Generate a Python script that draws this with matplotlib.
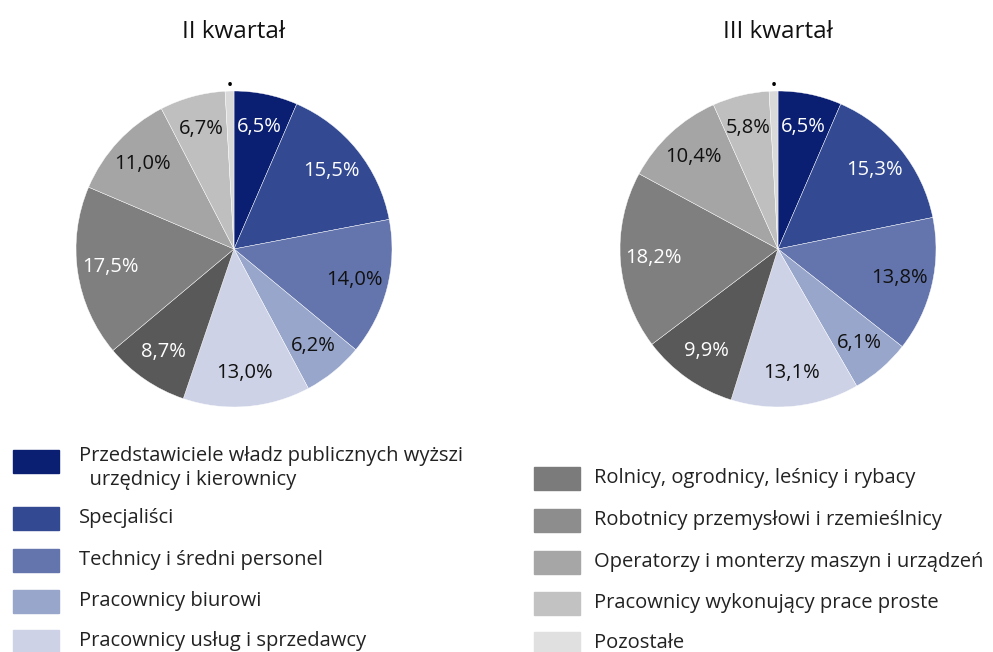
import numpy as np
import matplotlib
matplotlib.use('Agg')
import matplotlib.pyplot as plt
from matplotlib.patches import Rectangle

plt.rcParams['font.family'] = ['Open Sans', 'DejaVu Sans']

# data
categories = ['Przedstawiciele władz publicznych wyższi\n  urzędnicy i kierownicy',
              'Specjaliści',
              'Technicy i średni personel',
              'Pracownicy biurowi',
              'Pracownicy usług i sprzedawcy',
              'Rolnicy, ogrodnicy, leśnicy i rybacy',
              'Robotnicy przemysłowi i rzemieślnicy',
              'Operatorzy i monterzy maszyn i urządzeń',
              'Pracownicy wykonujący prace proste',
              'Pozostałe']
q2_values = [6.5, 15.5, 14.0, 6.2, 13.0, 8.7, 17.5, 11.0, 6.7, 0.9]
q3_values = [6.5, 15.3, 13.8, 6.1, 13.1, 9.9, 18.2, 10.4, 5.8, 0.9]
titles = ['II kwartał', 'III kwartał']

colors = ['#0b1f72', '#334a93', '#6475ad', '#98a6cb', '#cdd2e6',
          '#595959', '#7f7f7f', '#a5a5a5', '#bfbfbf', '#d9d9d9']
legend_colors = ['#0b1f72', '#334a93', '#6475ad', '#98a6cb', '#cdd2e6',
                 '#7b7b7b', '#8d8d8d', '#a6a6a6', '#c2c2c2', '#e0e0e0']
white_text = {0, 1, 5, 6}

W, H = 993, 652
fig = plt.figure(figsize=(W / 100, H / 100), dpi=100)


def draw_pie(cx, cy, r, values, title):
    ax = fig.add_axes([(cx - r) / W, (H - cy - r) / H, 2 * r / W, 2 * r / H])
    wedges, _ = ax.pie(values, colors=colors, startangle=90, counterclock=False,
                       wedgeprops=dict(edgecolor='white', linewidth=0.3))
    ax.set_xlim(-1, 1)
    ax.set_ylim(-1, 1)
    ax.axis('off')
    for i, (w, v) in enumerate(zip(wedges, values)):
        ang = np.deg2rad((w.theta1 + w.theta2) / 2)
        if i == len(values) - 1:
            ax.text(1.0 * np.cos(ang), 1.0 * np.sin(ang), '.', ha='center',
                    va='bottom', fontsize=15, fontweight='bold', clip_on=False)
            continue
        d = 0.79
        ax.text(d * np.cos(ang), d * np.sin(ang), ('%.1f%%' % v).replace('.', ','),
                ha='center', va='center', fontsize=14.5,
                color='white' if i in white_text else '#111111')
    fig.text(cx / W, 1 - 32 / H, title, ha='center', va='center', fontsize=17.5,
             color='#111111')


draw_pie(234, 249, 158, q2_values, titles[0])
draw_pie(778, 249, 158, q3_values, titles[1])

# legend drawn by hand, two columns
left_rows = [461, 518, 560, 601, 641]
right_rows = [478, 520, 562, 603, 643]
for i, lab in enumerate(categories):
    if i < 5:
        px, tx, y = 13, 79, left_rows[i]
    else:
        px, tx, y = 534, 594, right_rows[i - 5]
    fig.patches.append(Rectangle((px / W, 1 - (y + 11.5) / H), 46 / W, 23 / H,
                                 transform=fig.transFigure, color=legend_colors[i]))
    ty = y + 7 if i == 0 else y
    fig.text(tx / W, 1 - ty / H, lab, ha='left', va='center',
             fontsize=14.5, color='#222222', linespacing=1.25)

fig.savefig('out.png', dpi=100)
